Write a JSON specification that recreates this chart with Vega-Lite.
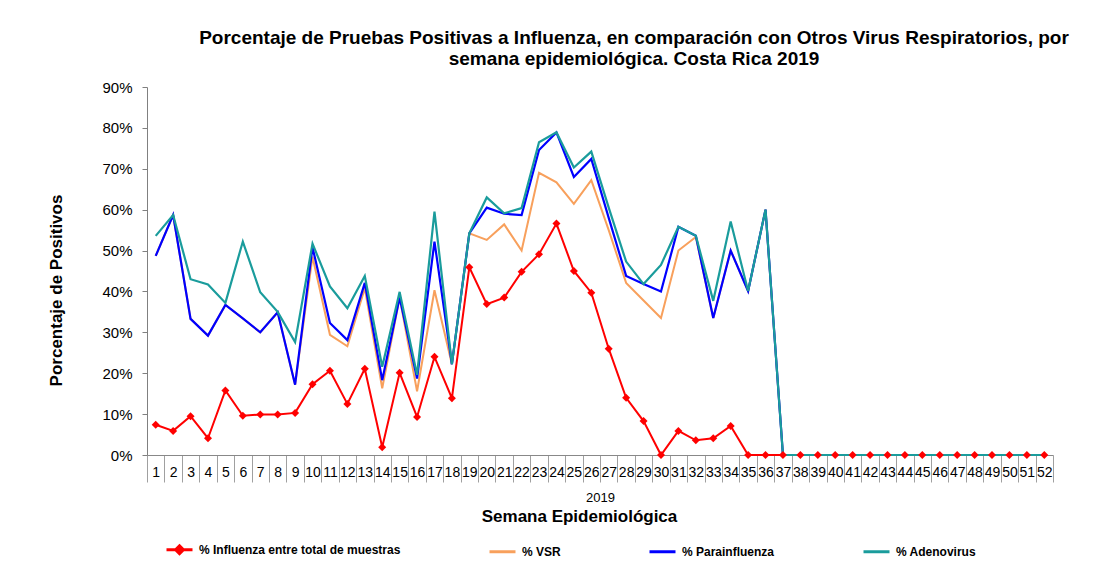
{
  "$schema": "https://vega.github.io/schema/vega-lite/v6.json",
  "width": 906,
  "height": 368,
  "autosize": {"type": "none"},
  "padding": {"left": 147, "top": 87, "right": 59, "bottom": 120},
  "background": "white",
  "config": {
    "font": "Liberation Sans",
    "view": {"stroke": null}
  },
  "title": {
    "text": ["Porcentaje de Pruebas Positivas a Influenza, en comparación con Otros Virus Respiratorios, por", "semana epidemiológica. Costa Rica 2019"],
    "font": "Liberation Sans",
    "fontSize": 19,
    "fontWeight": "bold",
    "color": "#000000",
    "anchor": "middle",
    "dx": 34,
    "offset": 11,
    "lineHeight": 21
  },
  "data": {
    "values": [
      {"semana": 1, "inf": 7.4, "vsr": 48.7, "para": 48.7, "adeno": 53.6},
      {"semana": 2, "inf": 5.9, "vsr": 58.7, "para": 58.7, "adeno": 58.7},
      {"semana": 3, "inf": 9.5, "vsr": 33.3, "para": 33.3, "adeno": 43.0},
      {"semana": 4, "inf": 4.1, "vsr": 29.2, "para": 29.2, "adeno": 41.7},
      {"semana": 5, "inf": 15.8, "vsr": 36.7, "para": 36.7, "adeno": 37.2},
      {"semana": 6, "inf": 9.6, "vsr": 33.4, "para": 33.4, "adeno": 52.2},
      {"semana": 7, "inf": 9.9, "vsr": 30.0, "para": 30.0, "adeno": 39.8},
      {"semana": 8, "inf": 9.9, "vsr": 34.9, "para": 34.9, "adeno": 35.0},
      {"semana": 9, "inf": 10.3, "vsr": 17.2, "para": 17.2, "adeno": 27.6},
      {"semana": 10, "inf": 17.3, "vsr": 48.5, "para": 50.8, "adeno": 51.7},
      {"semana": 11, "inf": 20.6, "vsr": 29.4, "para": 32.3, "adeno": 41.2},
      {"semana": 12, "inf": 12.5, "vsr": 26.6, "para": 28.1, "adeno": 35.9},
      {"semana": 13, "inf": 21.1, "vsr": 40.8, "para": 42.1, "adeno": 43.8},
      {"semana": 14, "inf": 1.9, "vsr": 16.3, "para": 18.3, "adeno": 21.6},
      {"semana": 15, "inf": 20.1, "vsr": 38.5, "para": 38.5, "adeno": 39.9},
      {"semana": 16, "inf": 9.3, "vsr": 15.6, "para": 18.7, "adeno": 19.6},
      {"semana": 17, "inf": 24.0, "vsr": 40.3, "para": 52.2, "adeno": 59.5},
      {"semana": 18, "inf": 13.9, "vsr": 22.2, "para": 22.2, "adeno": 22.2},
      {"semana": 19, "inf": 45.9, "vsr": 54.2, "para": 54.2, "adeno": 54.2},
      {"semana": 20, "inf": 36.9, "vsr": 52.6, "para": 60.5, "adeno": 63.0},
      {"semana": 21, "inf": 38.5, "vsr": 56.4, "para": 59.0, "adeno": 59.1},
      {"semana": 22, "inf": 44.8, "vsr": 50.0, "para": 58.7, "adeno": 60.4},
      {"semana": 23, "inf": 49.1, "vsr": 69.0, "para": 74.6, "adeno": 76.5},
      {"semana": 24, "inf": 56.6, "vsr": 66.7, "para": 78.9, "adeno": 78.9},
      {"semana": 25, "inf": 45.0, "vsr": 61.4, "para": 68.0, "adeno": 70.3},
      {"semana": 26, "inf": 39.7, "vsr": 67.2, "para": 72.4, "adeno": 74.2},
      {"semana": 27, "inf": 26.0, "vsr": 55.0, "para": 58.0, "adeno": 60.5},
      {"semana": 28, "inf": 14.0, "vsr": 42.1, "para": 43.8, "adeno": 47.3},
      {"semana": 29, "inf": 8.3, "vsr": 37.8, "para": 41.8, "adeno": 41.8},
      {"semana": 30, "inf": 0, "vsr": 33.5, "para": 40.0, "adeno": 46.5},
      {"semana": 31, "inf": 5.9, "vsr": 50.0, "para": 55.8, "adeno": 55.8},
      {"semana": 32, "inf": 3.6, "vsr": 53.3, "para": 53.6, "adeno": 53.6},
      {"semana": 33, "inf": 4.1, "vsr": 33.5, "para": 33.5, "adeno": 37.7},
      {"semana": 34, "inf": 7.1, "vsr": 50.0, "para": 50.0, "adeno": 57.1},
      {"semana": 35, "inf": 0, "vsr": 40.1, "para": 40.1, "adeno": 40.1},
      {"semana": 36, "inf": 0, "vsr": 60.0, "para": 60.0, "adeno": 60.0},
      {"semana": 37, "inf": 0, "vsr": 0, "para": 0, "adeno": 0},
      {"semana": 38, "inf": 0, "vsr": 0, "para": 0, "adeno": 0},
      {"semana": 39, "inf": 0, "vsr": 0, "para": 0, "adeno": 0},
      {"semana": 40, "inf": 0, "vsr": 0, "para": 0, "adeno": 0},
      {"semana": 41, "inf": 0, "vsr": 0, "para": 0, "adeno": 0},
      {"semana": 42, "inf": 0, "vsr": 0, "para": 0, "adeno": 0},
      {"semana": 43, "inf": 0, "vsr": 0, "para": 0, "adeno": 0},
      {"semana": 44, "inf": 0, "vsr": 0, "para": 0, "adeno": 0},
      {"semana": 45, "inf": 0, "vsr": 0, "para": 0, "adeno": 0},
      {"semana": 46, "inf": 0, "vsr": 0, "para": 0, "adeno": 0},
      {"semana": 47, "inf": 0, "vsr": 0, "para": 0, "adeno": 0},
      {"semana": 48, "inf": 0, "vsr": 0, "para": 0, "adeno": 0},
      {"semana": 49, "inf": 0, "vsr": 0, "para": 0, "adeno": 0},
      {"semana": 50, "inf": 0, "vsr": 0, "para": 0, "adeno": 0},
      {"semana": 51, "inf": 0, "vsr": 0, "para": 0, "adeno": 0},
      {"semana": 52, "inf": 0, "vsr": 0, "para": 0, "adeno": 0}
    ]
  },
  "layer": [
    {
      "layer": [
        {
          "mark": {"type": "line", "strokeWidth": 2},
          "encoding": {
            "x": {
              "field": "semana", "type": "ordinal",
              "scale": {"paddingInner": 0, "paddingOuter": 0},
              "axis": {
                "title": "2019",
                "titleFontSize": 13, "titleFontWeight": "normal", "titleColor": "#000000",
                "titlePadding": 9,
                "labelAngle": 0, "labelFontSize": 14, "labelColor": "#000000",
                "labelPadding": -17,
                "tickBand": "extent", "tickSize": 27, "tickColor": "#a0a0a0", "tickWidth": 1,
                "domainColor": "#888888", "domainWidth": 1
              }
            },
            "y": {
              "field": "inf", "type": "quantitative",
              "scale": {"domain": [0, 90], "nice": false},
              "axis": {
                "values": [0, 10, 20, 30, 40, 50, 60, 70, 80, 90],
                "labelExpr": "datum.value + '%'",
                "labelFontSize": 15, "labelColor": "#000000", "labelPadding": 10,
                "tickSize": 5, "tickColor": "#808080", "domainColor": "#808080",
                "grid": false,
                "title": "Porcentaje de Positivos",
                "titleFontSize": 17, "titleFontWeight": "bold", "titleColor": "#000000",
                "titlePadding": 36, "titleY": 203
              }
            },
            "color": {
              "datum": "% Influenza entre total de muestras",
              "scale": {
                "domain": ["% Influenza entre total de muestras", "% VSR", "% Parainfluenza", "% Adenovirus"],
                "range": ["#ff0000", "#f8a05c", "#0000ff", "#1a9c9c"]
              },
              "legend": {
                "title": null,
                "orient": "none",
                "legendX": 18,
                "legendY": 448,
                "direction": "horizontal",
                "columns": 4,
                "columnPadding": 82,
                "padding": 0,
                "symbolType": "stroke",
                "symbolSize": 676,
                "symbolStrokeWidth": 3,
                "labelFont": "Liberation Sans",
                "labelFontSize": 12,
                "labelFontWeight": "bold",
                "labelColor": "#000000",
                "labelOffset": 5,
                "labelLimit": 400,
                "encode": {
                  "symbols": {
                    "update": {
                      "shape": {"signal": "datum.value === '% Influenza entre total de muestras' ? 'M-1,0L1,0M0,-0.3L0.3,0L0,0.3L-0.3,0Z' : 'stroke'"},
                      "fill": {"signal": "datum.value === '% Influenza entre total de muestras' ? '#ff0000' : 'transparent'"}
                    }
                  }
                }
              }
            }
          }
        },
        {
          "mark": {"type": "line", "strokeWidth": 2},
          "encoding": {
            "x": {"field": "semana", "type": "ordinal"},
            "y": {"field": "vsr", "type": "quantitative"},
            "color": {"datum": "% VSR"}
          }
        },
        {
          "mark": {"type": "line", "strokeWidth": 2.2},
          "encoding": {
            "x": {"field": "semana", "type": "ordinal"},
            "y": {"field": "para", "type": "quantitative"},
            "color": {"datum": "% Parainfluenza"}
          }
        },
        {
          "mark": {"type": "line", "strokeWidth": 2.2},
          "encoding": {
            "x": {"field": "semana", "type": "ordinal"},
            "y": {"field": "adeno", "type": "quantitative"},
            "color": {"datum": "% Adenovirus"}
          }
        }
      ]
    },
    {
      "mark": {"type": "point", "shape": "diamond", "filled": true, "size": 64, "opacity": 1},
      "encoding": {
        "x": {
          "field": "semana", "type": "ordinal",
          "scale": {"paddingInner": 0, "paddingOuter": 0},
          "axis": {
            "orient": "bottom",
            "labels": false, "ticks": false, "domain": false,
            "title": "Semana Epidemiológica",
            "titleFontSize": 17, "titleFontWeight": "bold", "titleColor": "#000000",
            "titlePadding": 53, "titleX": 432
          }
        },
        "y": {"field": "inf", "type": "quantitative"},
        "color": {"value": "#ff0000"}
      }
    }
  ],
  "resolve": {"scale": {"x": "independent"}, "axis": {"x": "independent"}}
}
